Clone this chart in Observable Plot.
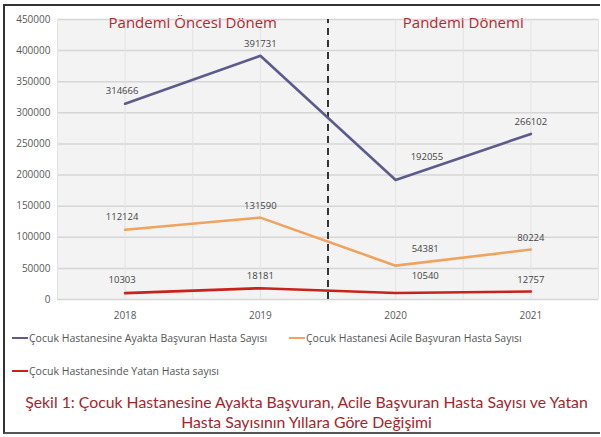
<!DOCTYPE html>
<html><head><meta charset="utf-8">
<script src="https://cdn.jsdelivr.net/npm/d3@7"></script>
<script src="https://cdn.jsdelivr.net/npm/@observablehq/plot@0.6"></script>
<style>
body{margin:0;background:#fff;font-family:"Open Sans",sans-serif;}
#box{position:absolute;left:3px;top:4px;width:597px;height:430px;border-top:2px solid #333;border-left:2px solid #333;border-bottom:2px solid #555;box-sizing:border-box;background:#fff;}
#chart{position:absolute;left:0;top:0;}
.legend{position:absolute;font-size:10.5px;color:#555;white-space:nowrap;display:flex;align-items:center;}
.legend span.sw{display:inline-block;width:16px;height:2px;margin-right:1px;}
#caption{position:absolute;left:3px;width:597px;top:386px;text-align:center;color:#a3262c;font-family:Lato,sans-serif;font-size:15.8px;line-height:20px;white-space:nowrap;}
</style></head><body>
<div id="box">
<div id="chart"></div>
<div class="legend" style="left:7px;top:325px"><span class="sw" style="background:#5b5b8c"></span>Çocuk Hastanesine Ayakta Başvuran Hasta Sayısı</div>
<div class="legend" style="left:284px;top:325px"><span class="sw" style="background:#f0a35e"></span>Çocuk Hastanesi Acile Başvuran Hasta Sayısı</div>
<div class="legend" style="left:7px;top:358px"><span class="sw" style="background:#c9221a"></span>Çocuk Hastanesinde Yatan Hasta sayısı</div>
<div id="caption">Şekil 1: Çocuk Hastanesine Ayakta Başvuran, Acile Başvuran Hasta Sayısı ve Yatan<br>Hasta Sayısının Yıllara Göre Değişimi</div>
</div>
<script>
const years = [2018, 2019, 2020, 2021];
const seriesNames = [
  "Çocuk Hastanesine Ayakta Başvuran Hasta Sayısı",
  "Çocuk Hastanesi Acile Başvuran Hasta Sayısı",
  "Çocuk Hastanesinde Yatan Hasta sayısı"
];
const ayakta = [314666, 391731, 192055, 266102];
const acil = [112124, 131590, 54381, 80224];
const yatan = [10303, 18181, 10540, 12757];
const yTicks = [0, 50000, 100000, 150000, 200000, 250000, 300000, 350000, 400000, 450000];
const periodLabels = ["Pandemi Öncesi Dönem", "Pandemi Dönemi"];
const pandemicStartYear = 2020;
const colors = ["#5b5b8c", "#f0a35e", "#c9221a"];

const valuesBySeries = [ayakta, acil, yatan];
const data = [];
valuesBySeries.forEach((vals, s) => vals.forEach((v, i) => data.push({series: seriesNames[s], year: years[i], value: v, s, i})));

const boundary = pandemicStartYear - 0.5;
const periods = [
  {label: periodLabels[0], x: (years[0] + years[1]) / 2},
  {label: periodLabels[1], x: (years[2] + years[3]) / 2}
];

const chart = Plot.plot({
  width: 595, height: 318,
  marginLeft: 52, marginRight: 2, marginTop: 13, marginBottom: 25,
  style: {fontFamily: "Open Sans, sans-serif", fontSize: "10px", color: "#595959", background: "transparent"},
  x: {domain: [years[0] - 0.5, years[years.length - 1] + 0.5], ticks: years, tickFormat: d => String(d), tickSize: 0, tickPadding: 12, label: null},
  y: {domain: [0, 450000], ticks: yTicks, tickFormat: d => String(d), tickSize: 0, tickPadding: 7, label: null},
  color: {domain: seriesNames, range: colors},
  marks: [
    Plot.frame({fill: "#f3f3f3", stroke: null}),
    Plot.gridY(yTicks, {stroke: "#d6d6d6", strokeOpacity: 1, strokeWidth: 1.5}),
    Plot.gridX(d3.range(years[0] - 0.5, years[years.length - 1] + 0.51, 0.5), {stroke: "#e2e2e2", strokeOpacity: 1}),
    Plot.ruleX([boundary], {stroke: "#222", strokeWidth: 1.8, strokeDasharray: "7,5", y1: 0, y2: 450000}),
    Plot.line(data, {x: "year", y: "value", z: "series", stroke: "series", strokeWidth: 2.6}),
    Plot.text(data, {x: "year", y: "value", text: d => String(d.value), dx: 0, dy: -12, fill: "#444", fontSize: 9.5,
      filter: d => d.year !== pandemicStartYear && d.i !== 0}),
    Plot.text(data, {x: "year", y: "value", text: d => String(d.value), dx: -3, dy: -13, fill: "#444", fontSize: 9.5,
      filter: d => d.i === 0}),
    Plot.text(data, {x: "year", y: "value", text: d => String(d.value), dx: 16, dy: -17, fill: "#444", fontSize: 9.5, textAnchor: "start",
      filter: d => d.year === pandemicStartYear && d.s !== 0}),
    Plot.text(data, {x: "year", y: "value", text: d => String(d.value), dx: 15, dy: -23, fill: "#444", fontSize: 9.5, textAnchor: "start",
      filter: d => d.year === pandemicStartYear && d.s === 0}),
    Plot.text(periods, {x: "x", frameAnchor: "top", dy: -2, text: "label", fill: "#b22a30", fontSize: 15})
  ]
});
document.getElementById("chart").appendChild(chart);
</script>
</body></html>
